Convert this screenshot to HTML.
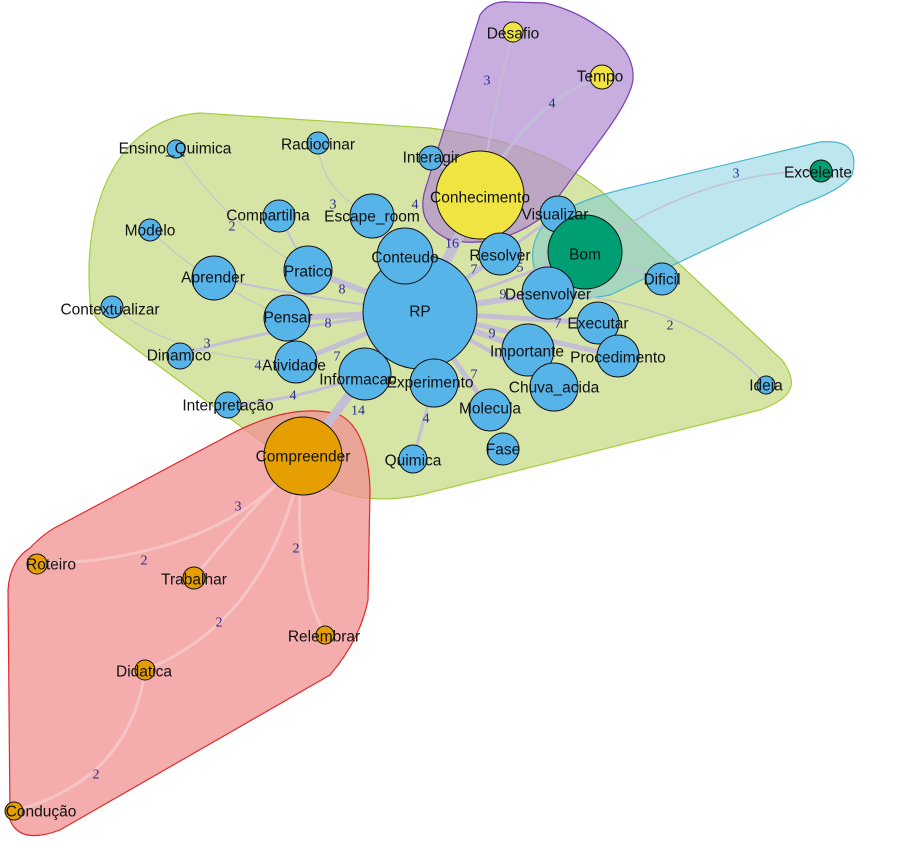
<!DOCTYPE html>
<html><head><meta charset="utf-8"><style>
html,body{margin:0;padding:0;background:#fff;}
svg{display:block;}
text{font-family:"Liberation Sans",sans-serif;font-size:15.5px;fill:#111;text-anchor:middle;dominant-baseline:central;}
.w{font-family:"Liberation Serif",serif;font-size:14px;fill:#2a2a8a;}
</style></head><body>
<svg width="898" height="844" viewBox="0 0 898 844" xmlns="http://www.w3.org/2000/svg">
<path d="M90,300 C82,200 120,118 200,113 L430,128 C520,140 560,160 600,190 L782,360 C800,385 792,398 760,410 L420,495 C370,505 330,495 300,470 L110,330 C95,320 90,310 90,300 Z" fill="#d6e4a6" stroke="#a6cc40" stroke-width="1.2"/>
<path d="M30,548 Q45,532 60,525 L220,440 Q290,400 340,415 Q368,430 370,490 L368,600 Q360,640 330,675 L60,830 Q20,845 10,820 L8,590 Q10,560 30,548 Z" fill="#f09090" fill-opacity="0.75" stroke="#e02a2a" stroke-width="1.2"/>
<path d="M425,190 L480,15 Q490,0 510,2 L545,3 Q575,10 600,28 Q635,50 633,80 Q630,100 600,140 L545,215 Q500,250 450,240 Q415,225 425,190 Z" fill="#b08cd0" fill-opacity="0.7" stroke="#7a40b0" stroke-width="1.2"/>
<path d="M540,230 Q560,205 620,190 L820,142 Q862,138 852,175 Q842,190 800,205 L610,295 Q560,305 540,282 Q525,255 540,230 Z" fill="#6cc8dc" fill-opacity="0.45" stroke="#4ab8cc" stroke-width="1.2"/>
<g stroke="#c4bed8" fill="none" stroke-linecap="round" opacity="0.95">
<path d="M420,312 L480,195" stroke-width="10"/>
<path d="M420,312 L405,256" stroke-width="6"/>
<path d="M420,312 L500,254" stroke-width="5"/>
<path d="M420,312 L558,214" stroke-width="3"/>
<path d="M420,312 L585,252" stroke-width="3"/>
<path d="M420,312 L548,293" stroke-width="6"/>
<path d="M420,312 L598,323" stroke-width="5"/>
<path d="M420,312 L618,356" stroke-width="5"/>
<path d="M420,312 L528,350" stroke-width="6"/>
<path d="M420,312 L554,387" stroke-width="4"/>
<path d="M420,312 L490,410" stroke-width="5"/>
<path d="M420,312 L434,383" stroke-width="5"/>
<path d="M420,312 L365,374" stroke-width="5"/>
<path d="M420,312 L296,362" stroke-width="5"/>
<path d="M420,312 L287,318" stroke-width="6"/>
<path d="M420,312 L308,270" stroke-width="6"/>
<path d="M420,312 L372,216" stroke-width="3"/>
<path d="M365,374 L303,456" stroke-width="9"/>
<path d="M420,312 Q320,300 214,278" stroke-width="2"/>
<path d="M420,312 Q250,330 180,356" stroke-width="3"/>
<path d="M365,374 Q300,400 228,405" stroke-width="3"/>
<path d="M434,383 L413,459" stroke-width="3"/>
<path d="M480,195 L431,158" stroke-width="3"/>
<path d="M480,195 Q495,100 513,32" stroke-width="2"/>
<path d="M480,195 Q530,100 602,77" stroke-width="3"/>
<path d="M585,252 Q700,170 821,171" stroke-width="1.5"/>
<path d="M548,293 Q690,300 766,385" stroke-width="1.5"/>
<path d="M585,252 L662,279" stroke-width="1.5"/>
<path d="M308,270 Q230,230 176,149" stroke-width="1"/>
<path d="M308,270 L279,216" stroke-width="2"/>
<path d="M372,216 Q320,190 318,143" stroke-width="1"/>
<path d="M287,318 Q200,280 150,230" stroke-width="1"/>
<path d="M296,362 Q180,360 112,307" stroke-width="1"/>
</g>
<g stroke="#f6c4c4" fill="none" stroke-width="3">
<path d="M303,456 Q220,560 37,564"/>
<path d="M303,456 Q240,520 194,578"/>
<path d="M303,456 Q290,570 325,635"/>
<path d="M303,456 Q270,620 145,670"/>
<path d="M145,670 Q130,780 14,811"/>
</g>
<g>
<text class="w" x="452" y="244">16</text><text class="w" x="474" y="270">7</text>
<text class="w" x="520" y="268">5</text><text class="w" x="503" y="295">9</text>
<text class="w" x="558" y="324">7</text><text class="w" x="492" y="334">9</text>
<text class="w" x="474" y="375">7</text><text class="w" x="342" y="290">8</text>
<text class="w" x="328" y="324">8</text><text class="w" x="337" y="357">7</text>
<text class="w" x="258" y="366">4</text><text class="w" x="207" y="344">3</text>
<text class="w" x="293" y="396">4</text><text class="w" x="358" y="411">14</text>
<text class="w" x="426" y="419">4</text><text class="w" x="415" y="205">4</text>
<text class="w" x="333" y="205">3</text><text class="w" x="232" y="227">2</text>
<text class="w" x="487" y="81">3</text><text class="w" x="552" y="104">4</text>
<text class="w" x="736" y="174">3</text><text class="w" x="670" y="326">2</text>
<text class="w" x="238" y="507">3</text><text class="w" x="144" y="561">2</text>
<text class="w" x="296" y="549">2</text><text class="w" x="219" y="623">2</text>
<text class="w" x="96" y="775">2</text>
</g>
<g stroke="#111" stroke-width="1">
<circle cx="420" cy="312" r="57" fill="#56b4e9"/>
<circle cx="405" cy="256" r="28" fill="#56b4e9"/>
<circle cx="431" cy="158" r="12" fill="#56b4e9"/>
<circle cx="480" cy="195" r="44" fill="#f0e442"/>
<circle cx="513" cy="32" r="10" fill="#f0e442"/>
<circle cx="602" cy="77" r="12" fill="#f0e442"/>
<circle cx="500" cy="254" r="21" fill="#56b4e9"/>
<circle cx="558" cy="214" r="18" fill="#56b4e9"/>
<circle cx="585" cy="252" r="37" fill="#009e73"/>
<circle cx="821" cy="171" r="11" fill="#009e73"/>
<circle cx="662" cy="279" r="16" fill="#56b4e9"/>
<circle cx="548" cy="293" r="26" fill="#56b4e9"/>
<circle cx="598" cy="323" r="21" fill="#56b4e9"/>
<circle cx="618" cy="356" r="21" fill="#56b4e9"/>
<circle cx="528" cy="350" r="26" fill="#56b4e9"/>
<circle cx="554" cy="387" r="24" fill="#56b4e9"/>
<circle cx="490" cy="410" r="21" fill="#56b4e9"/>
<circle cx="503" cy="449" r="16" fill="#56b4e9"/>
<circle cx="434" cy="383" r="24" fill="#56b4e9"/>
<circle cx="413" cy="459" r="14" fill="#56b4e9"/>
<circle cx="365" cy="374" r="26" fill="#56b4e9"/>
<circle cx="296" cy="362" r="21" fill="#56b4e9"/>
<circle cx="287" cy="318" r="23" fill="#56b4e9"/>
<circle cx="308" cy="270" r="24" fill="#56b4e9"/>
<circle cx="279" cy="216" r="16" fill="#56b4e9"/>
<circle cx="372" cy="216" r="22" fill="#56b4e9"/>
<circle cx="318" cy="143" r="11" fill="#56b4e9"/>
<circle cx="176" cy="149" r="9" fill="#56b4e9"/>
<circle cx="150" cy="230" r="11" fill="#56b4e9"/>
<circle cx="214" cy="278" r="22" fill="#56b4e9"/>
<circle cx="112" cy="307" r="11" fill="#56b4e9"/>
<circle cx="180" cy="356" r="13" fill="#56b4e9"/>
<circle cx="228" cy="405" r="13" fill="#56b4e9"/>
<circle cx="766" cy="385" r="9" fill="#56b4e9"/>
<circle cx="303" cy="456" r="39" fill="#e69f00"/>
<circle cx="37" cy="564" r="10" fill="#e69f00"/>
<circle cx="194" cy="578" r="11" fill="#e69f00"/>
<circle cx="325" cy="635" r="9" fill="#e69f00"/>
<circle cx="145" cy="670" r="10" fill="#e69f00"/>
<circle cx="14" cy="811" r="9" fill="#e69f00"/>
</g>
<g>
<text x="420" y="312">RP</text><text x="405" y="258">Conteudo</text>
<text x="431" y="158">Interagir</text><text x="480" y="198">Conhecimento</text>
<text x="513" y="34">Desafio</text><text x="600" y="77">Tempo</text>
<text x="500" y="256">Resolver</text><text x="555" y="215">Visualizar</text>
<text x="585" y="255">Bom</text><text x="818" y="173">Excelente</text>
<text x="662" y="280">Dificil</text><text x="548" y="295">Desenvolver</text>
<text x="598" y="324">Executar</text><text x="618" y="358">Procedimento</text>
<text x="527" y="352">Importante</text><text x="554" y="388">Chuva_acida</text>
<text x="490" y="409">Molecula</text><text x="503" y="450">Fase</text>
<text x="430" y="383">Experimento</text><text x="413" y="461">Quimica</text>
<text x="358" y="380">Informacao</text><text x="294" y="366">Atividade</text>
<text x="288" y="318">Pensar</text><text x="308" y="272">Pratico</text>
<text x="268" y="216">Compartilha</text><text x="372" y="217">Escape_room</text>
<text x="318" y="145">Radiocinar</text><text x="175" y="149">Ensino_Quimica</text>
<text x="150" y="231">Modelo</text><text x="213" y="278">Aprender</text>
<text x="110" y="310">Contextualizar</text><text x="179" y="356">Dinamico</text>
<text x="228" y="406">Interpretação</text><text x="766" y="386">Ideia</text>
<text x="303" y="457">Compreender</text><text x="51" y="565">Roteiro</text>
<text x="194" y="580">Trabalhar</text><text x="324" y="637">Relembrar</text>
<text x="144" y="672">Didatica</text><text x="41" y="812">Condução</text>
</g>
</svg>
</body></html>
